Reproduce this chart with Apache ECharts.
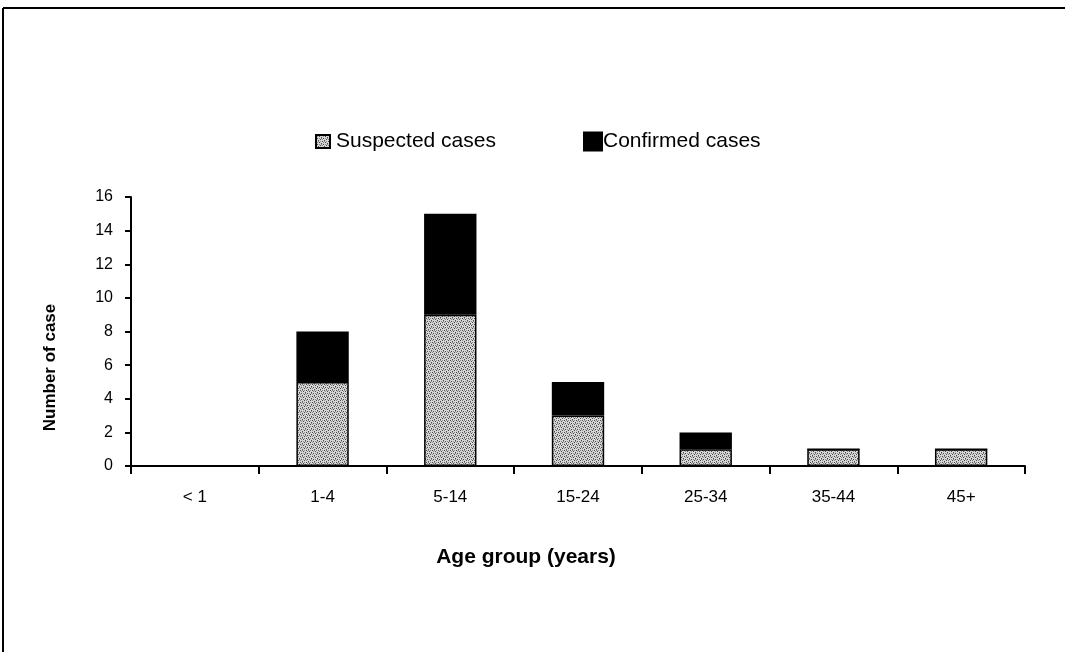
<!DOCTYPE html>
<html><head><meta charset="utf-8">
<script src="https://cdn.jsdelivr.net/npm/echarts@6/dist/echarts.min.js"></script>
<style>html,body{margin:0;padding:0;background:#fff}#c{width:1065px;height:652px}</style>
</head><body><div id="c"></div>
<script>
const categories = ['< 1', '1-4', '5-14', '15-24', '25-34', '35-44', '45+'];
const suspected = [0, 5, 9, 3, 1, 1, 1];
const confirmed = [0, 3, 6, 2, 1, 0, 0];
const yTicks = [0, 2, 4, 6, 8, 10, 12, 14, 16];

// dotted gray texture for suspected cases
const pc = document.createElement('canvas');
pc.width = 6; pc.height = 6;
const g = pc.getContext('2d');
g.fillStyle = '#d6d6d6'; g.fillRect(0, 0, 6, 6);
g.fillStyle = '#4a4a4a';
[[0,0],[3,1],[1,3],[4,4],[2,5],[5,2]].forEach(p => g.fillRect(p[0], p[1], 1, 1));
g.fillStyle = '#8a8a8a';
[[2,0],[5,3],[0,4],[3,3],[4,0],[1,1]].forEach(p => g.fillRect(p[0], p[1], 1, 1));
const pattern = {image: pc, repeat: 'repeat'};

const font = '"Liberation Sans", Arial, sans-serif';
const chart = echarts.init(document.getElementById('c'), null, {renderer: 'canvas'});
chart.setOption({
  animation: false,
  backgroundColor: '#fff',
  textStyle: {fontFamily: font, color: '#000'},
  graphic: [
    {type: 'line', shape: {x1: 3, y1: 8, x2: 1065, y2: 8}, style: {stroke: '#000', lineWidth: 2}},
    {type: 'line', shape: {x1: 3, y1: 8, x2: 3, y2: 652}, style: {stroke: '#000', lineWidth: 2}}
  ],
  legend: [
    {data: [{name: 'Suspected cases', icon: 'rect'}], left: 315, top: 124, padding: 0,
     itemWidth: 14, itemHeight: 13, itemGap: 0,
     textStyle: {fontSize: 21, lineHeight: 21, fontFamily: font, color: '#000', padding: [0, 0, 14, 1]}},
    {data: [{name: 'Confirmed cases', icon: 'rect'}], left: 583, top: 125, padding: 0,
     itemWidth: 18, itemHeight: 18, itemGap: 0,
     textStyle: {fontSize: 21, lineHeight: 21, fontFamily: font, color: '#000', padding: [0, 0, 12, -4]}}
  ],
  grid: {left: 131, right: 40, top: 197, bottom: 186, containLabel: false},
  xAxis: {
    type: 'category', data: categories,
    name: 'Age group (years)', nameLocation: 'middle', nameGap: 81,
    nameTextStyle: {fontSize: 21, fontWeight: 'bold', fontFamily: font, color: '#000', padding: [0, 104, 0, 0]},
    axisLine: {lineStyle: {color: '#000', width: 2}},
    axisTick: {show: true, length: 8, lineStyle: {color: '#000', width: 2}},
    axisLabel: {fontSize: 17, color: '#000', margin: 23, fontFamily: font}
  },
  yAxis: {
    type: 'value', min: 0, max: 16, interval: 2,
    name: 'Number of case', nameLocation: 'middle', nameGap: 72, nameRotate: 90,
    nameTextStyle: {fontSize: 17, fontWeight: 'bold', fontFamily: font, color: '#000', padding: [0, 72, 0, 0]},
    splitLine: {show: false},
    axisLine: {show: true, lineStyle: {color: '#000', width: 2}},
    axisTick: {show: true, length: 6, lineStyle: {color: '#000', width: 2}},
    axisLabel: {fontSize: 16, color: '#000', margin: 18, fontFamily: font,
      formatter: v => yTicks.includes(v) ? String(v) : ''}
  },
  series: [
    {name: 'Suspected cases', type: 'bar', stack: 'a', data: suspected, barWidth: '41%',
     itemStyle: {color: pattern, borderColor: '#000', borderWidth: 1.5}},
    {name: 'Confirmed cases', type: 'bar', stack: 'a', data: confirmed, barWidth: '41%',
     itemStyle: {color: '#000', borderColor: '#000', borderWidth: 1.5}}
  ]
});
</script></body></html>
